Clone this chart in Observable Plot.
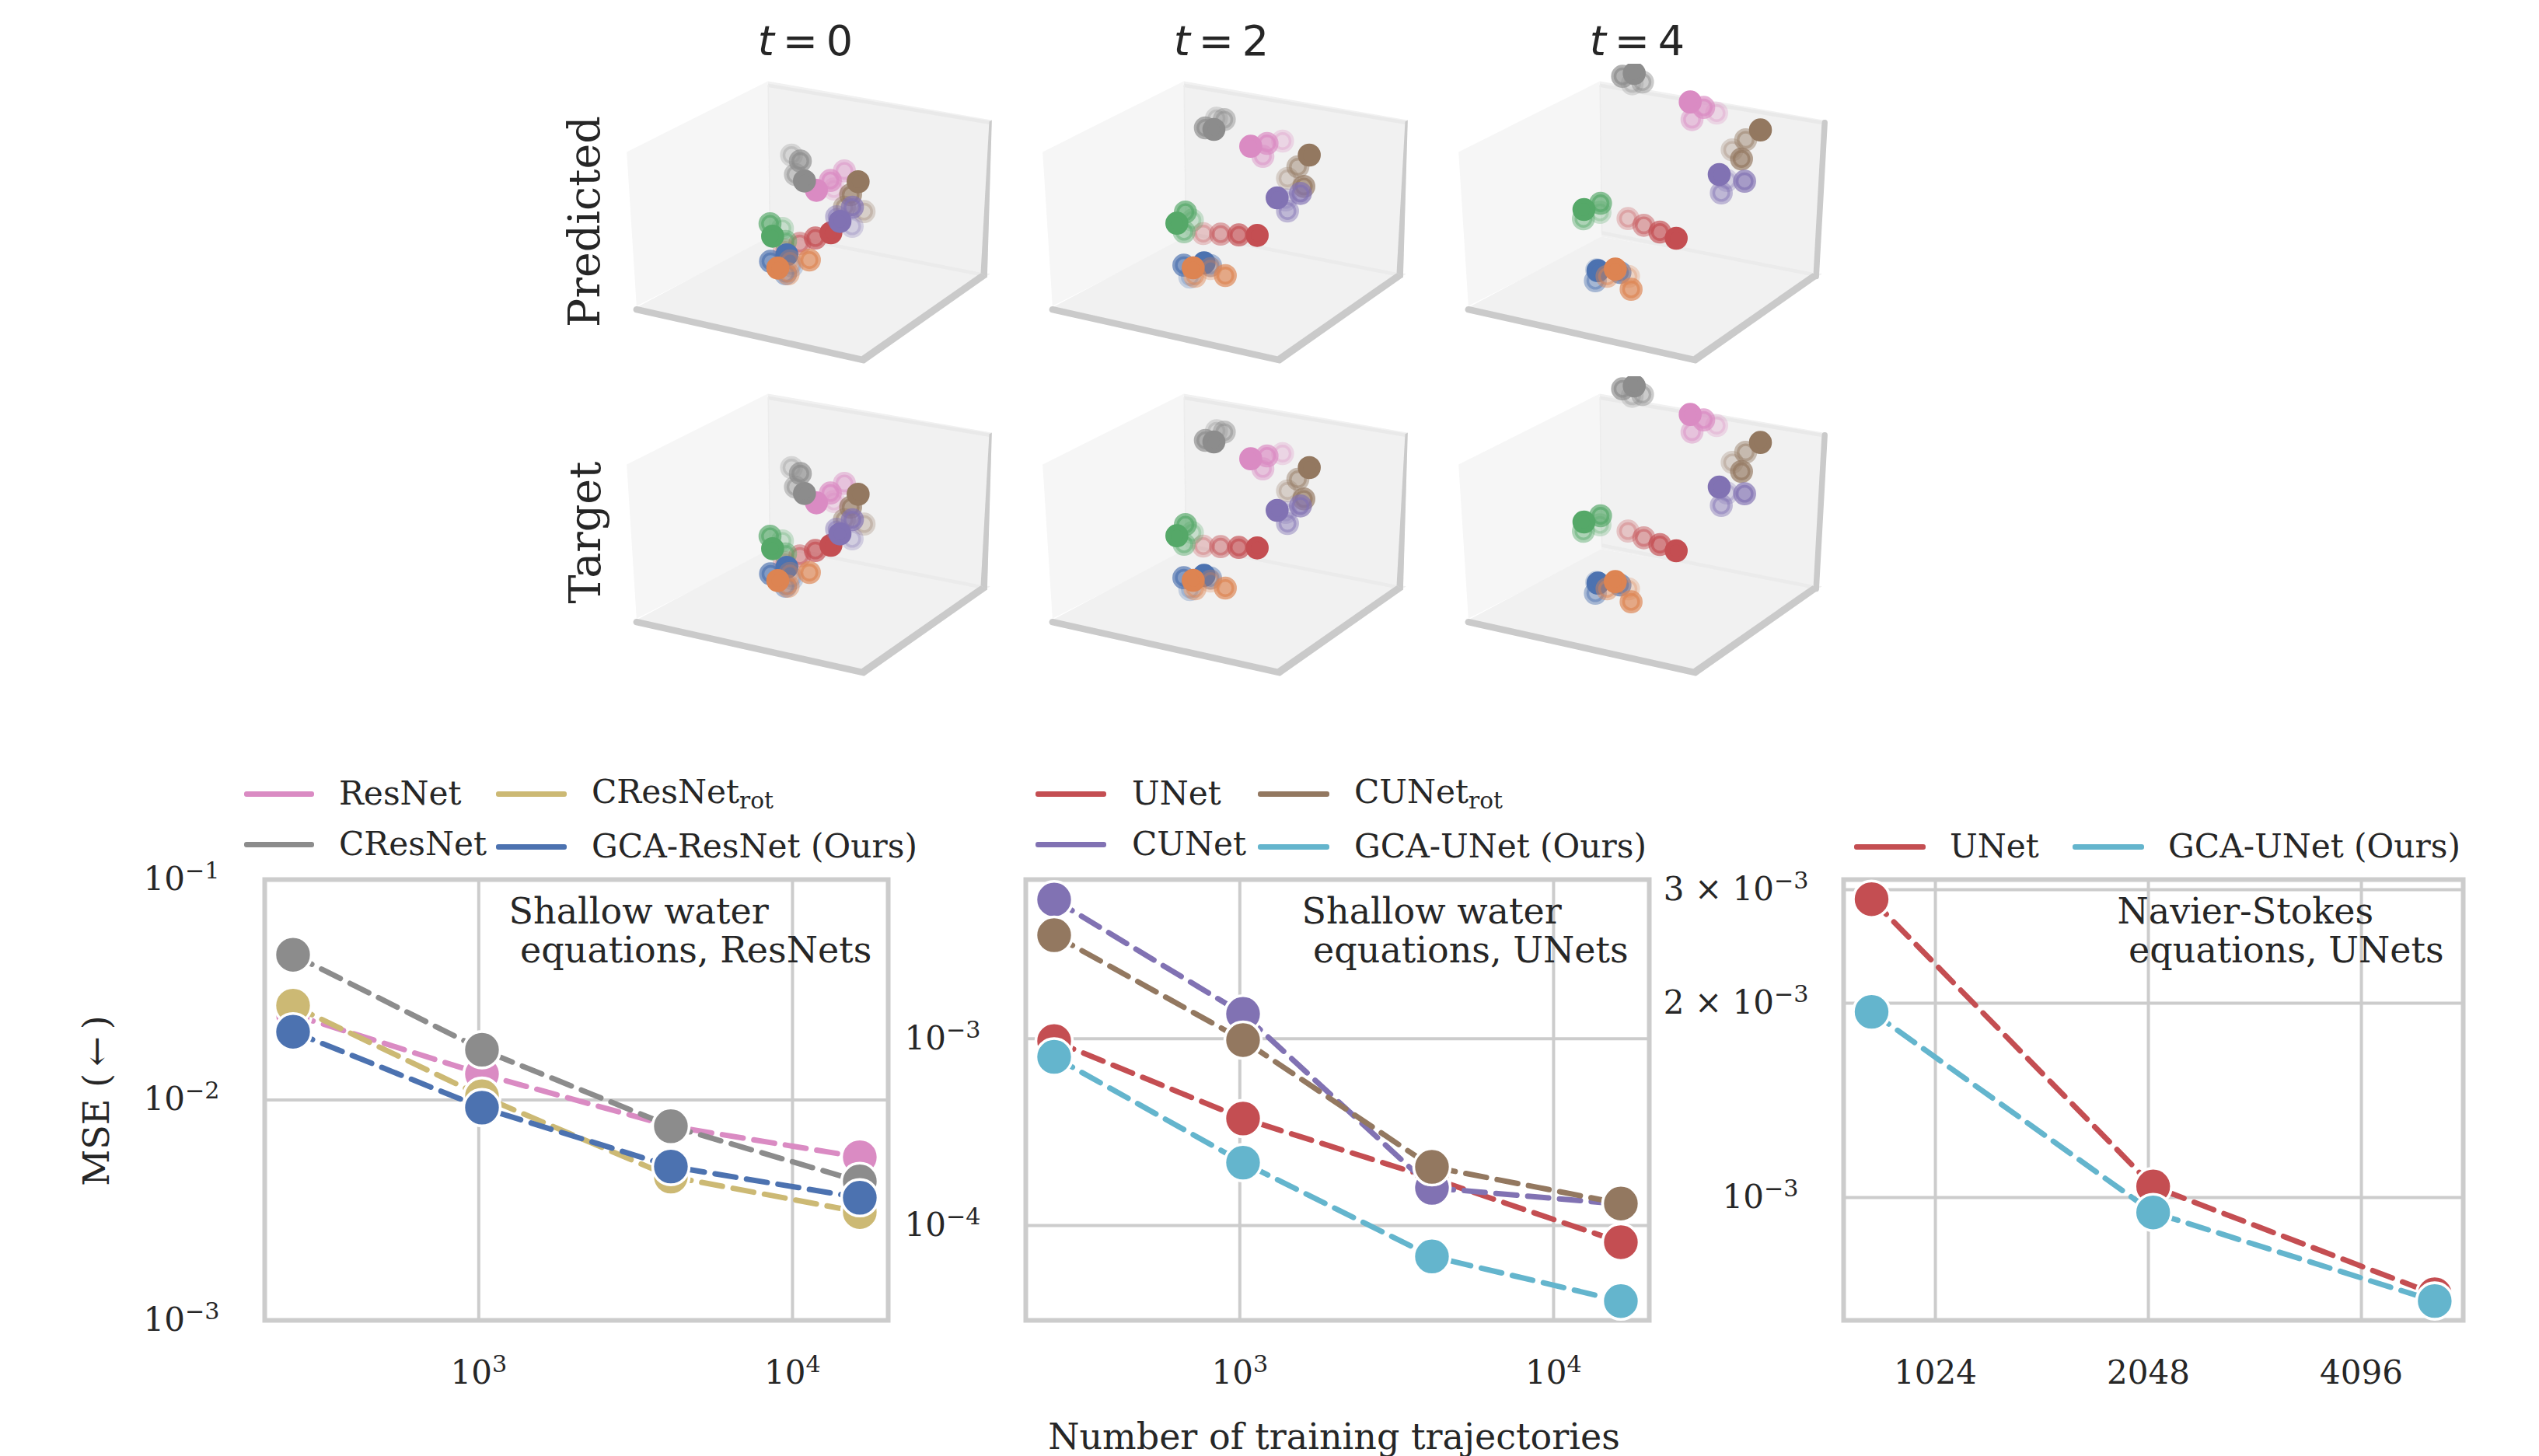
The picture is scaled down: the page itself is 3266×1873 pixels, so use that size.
<!DOCTYPE html>
<html>
<head>
<meta charset="utf-8">
<script src="https://cdn.jsdelivr.net/npm/d3@7"></script>
<script src="https://cdn.jsdelivr.net/npm/@observablehq/plot@0.6"></script>
<style>
html,body{margin:0;padding:0;background:#fff;width:3266px;height:1873px;overflow:hidden}
#page{position:relative;width:3266px;height:1873px;font-family:"DejaVu Serif",serif;color:#262626}
#page>svg,#page>figure{position:absolute;margin:0}
.lbl{position:absolute;white-space:nowrap;line-height:1}
.sw{position:absolute;height:6.5px;border-radius:3px}
.soft{filter:blur(0.55px)}
</style>
</head>
<body>
<div id="page"></div>
<script>
// ---------- seaborn "deep" colours ----------
const cBlue="#4C72B0",cOrange="#DD8452",cGreen="#55A868",cRed="#C44E52",cPurple="#8172B3",
      cBrown="#937860",cPink="#DA8BC3",cGray="#8C8C8C",cKhaki="#CCB974",cTeal="#64B5CD";

// ---------- line charts: MSE vs number of training trajectories ----------
const swTrajectories=[256,1024,4096,16384];
const swResNet=[0.0244,0.0131,0.0076,0.0055];
const swCResNet=[0.0456,0.0169,0.0076,0.00427];
const swCResNetRot=[0.0268,0.0104,0.00449,0.0031];
const swGcaResNet=[0.0204,0.00923,0.00499,0.0036];
const swUNet=[0.000973,0.000374,0.000179,0.0000813];
const swCUNet=[0.00557,0.00136,0.000159,0.00013];
const swCUNetRot=[0.00359,0.000984,0.000206,0.000131];
const swGcaUNet=[0.0008,0.000217,0.0000682,0.0000393];
const nsTrajectories=[832,2080,5200];
const nsUNet=[0.0029,0.00104,0.000708];
const nsGcaUNet=[0.00194,0.000948,0.000691];

// ---------- 3D scatter: particle positions,
// oldest to newest within each particle ----------
const t0Pink=[[832,488],[872,418],[818,455],[764,493]];
const t0Gray=[[668,357],[683,432],[702,380],[718,457]];
const t0Red=[[640,722],[700,698],[760,677],[820,657]];
const t0Green=[[633,640],[645,690],[585,622],[595,670]];
const t0BlueP=[[670,785],[645,815],[587,767],[650,742]];
const t0OrangeP=[[662,765],[655,815],[737,762],[615,793]];
const t0Brown=[[948,575],[872,558],[896,510],[925,460]];
const t0PurpleP=[[902,632],[842,595],[903,558],[855,613]];

const t2Pink=[[958,303],[882,362],[898,312],[835,323]];
const t2Gray=[[703,215],[733,220],[660,252],[693,258]];
const t2Red=[[652,660],[719,662],[789,665],[860,667]];
const t2Green=[[610,608],[578,653],[583,577],[550,620]];
const t2BlueP=[[600,828],[680,783],[577,782],[655,773]];
const t2OrangeP=[[680,795],[620,825],[737,822],[613,792]];
const t2Brown=[[977,447],[1017,402],[1040,478],[1061,357]];
const t2PurpleP=[[970,530],[977,573],[1027,505],[937,522]];

const t4Pink=[[1028,195],[933,220],[978,173],[926,152]];
const t4Gray=[[702,82],[742,75],[665,53],[710,42]];
const t4Red=[[686,602],[747,628],[809,654],[872,678]];
const t4Green=[[578,578],[514,603],[580,543],[516,567]];
const t4BlueP=[[565,800],[560,842],[655,810],[570,803]];
const t4OrangeP=[[688,825],[605,825],[698,875],[637,797]];
const t4Brown=[[1088,337],[1140,298],[1124,372],[1197,260]];
const t4PurpleP=[[1068,455],[1046,503],[1136,458],[1038,432]];

const ageOpacity=[0.28,0.45,0.68,1];

// 3D box outline, in the same picture units as the particles
const leftWall=[[32,345],[577,72],[582,680],[70,940]];
const backWall=[[577,72],[1440,222],[1423,815],[582,672]];
const floorPane=[[70,945],[582,672],[1435,815],[940,1135]];
const topBand=[[577,88],[1432,232]];
const bottomBand=[[585,657],[1395,817]];
const innerEdge=[[578,85],[585,660]];
const frontEdge=[[70,953],[945,1148]];
const rightEdge=[[1398,812],[1423,828],[948,1162],[938,1133]];
const uprightWedge=[[1431,228],[1441,222],[1423,830],[1398,812]];
const uprightBar=[[1445,232],[1412,825]];

const page=document.getElementById("page");
function label(html,x,y,size,o={}){
  const d=document.createElement("div");
  d.className="lbl";
  d.innerHTML=html;
  d.style.left=x+"px";d.style.top=y+"px";d.style.fontSize=size+"px";
  d.style.transform=o.transform||"translate(-50%,-50%)";
  if(o.font)d.style.fontFamily=o.font;
  page.appendChild(d);
}
function place(svg,left,top,cls){
  svg.style.position="absolute";svg.style.left=left+"px";svg.style.top=top+"px";
  svg.style.background="transparent";svg.style.maxWidth="none";
  if(cls)svg.classList.add(cls);
  page.appendChild(svg);
}

// ---------- 3D panels ----------
function scatterPanel(particles,thickUpright){
  const X=d=>d[0],Y=d=>d[1];
  const pane=(pts,fill)=>Plot.line(pts,{x:X,y:Y,fill,stroke:null,clip:true});
  const edge=(pts,stroke,w,cap="butt")=>Plot.line(pts,{x:X,y:Y,stroke,strokeWidth:w,strokeLinecap:cap,clip:true});
  const marks=[
    pane(leftWall,"#f6f6f6"),pane(backWall,"#f1f1f1"),pane(floorPane,"#f1f1f1"),
    edge(topBand,"#e9e9e9",4.6),edge(bottomBand,"#ebebeb",4.6),edge(innerEdge,"#ececec",1.5),
    pane(rightEdge,"#cacaca"),edge(frontEdge,"#cacaca",8.5,"round"),
    thickUpright?edge(uprightBar,"#cacaca",7.5,"round"):pane(uprightWedge,"#cacaca")
  ];
  for(const [pts,color] of particles){
    pts.forEach((pt,i)=>{
      marks.push(Plot.dot([pt],{x:X,y:Y,r:11.4,fill:color,fillOpacity:ageOpacity[i],
        stroke:color,strokeOpacity:ageOpacity[i],strokeWidth:6.8,clip:true}));
    });
  }
  return Plot.plot({width:520,height:398,margin:0,
    x:{domain:[0,1560],axis:null},y:{domain:[1200,6],axis:null},marks});
}
const columns=[
  {left:795,tex:"0",thick:false,p:[[t0Pink,cPink],[t0Gray,cGray],[t0Red,cRed],[t0Green,cGreen],[t0BlueP,cBlue],[t0OrangeP,cOrange],[t0Brown,cBrown],[t0PurpleP,cPurple]]},
  {left:1330,tex:"2",thick:false,p:[[t2Pink,cPink],[t2Gray,cGray],[t2Red,cRed],[t2Green,cGreen],[t2BlueP,cBlue],[t2OrangeP,cOrange],[t2Brown,cBrown],[t2PurpleP,cPurple]]},
  {left:1865,tex:"4",thick:true,p:[[t4Pink,cPink],[t4Gray,cGray],[t4Red,cRed],[t4Green,cGreen],[t4BlueP,cBlue],[t4OrangeP,cOrange],[t4Brown,cBrown],[t4PurpleP,cPurple]]}
];
for(const c of columns){
  place(scatterPanel(c.p,c.thick),c.left,82,"soft");
  place(scatterPanel(c.p,c.thick),c.left,483.67,"soft");
  label(`<i>t</i>\u2009=\u2009${c.tex}`,c.left+241,53,54,{font:'"DejaVu Sans",sans-serif'});
}
label("Predicted",752,285,55.5,{transform:"translate(-50%,-50%) rotate(-90deg)"});
label("Target",753,685,55.5,{transform:"translate(-50%,-50%) rotate(-90deg)"});

// ---------- line panels ----------
const TICK=42,FRAME_TOP=1130.5,FRAME_BOTTOM=1697.5;
const tenPow=v=>`10^${String(Math.round(Math.log10(v))).replace("-","\u2212")}`;
function linePanel({frameL,frameR,xDomain,yDomain,xTicks,xFormat,yTicks,yFormat,xs,series,note,noteDx}){
  const mL=240,mR=30,mT=30,mB=130;
  const marks=[
    Plot.gridX(xTicks,{stroke:"#cccccc",strokeWidth:4,strokeOpacity:1}),
    Plot.gridY(yTicks.filter(v=>v>yDomain[0]&&v<yDomain[1]),{stroke:"#cccccc",strokeWidth:4,strokeOpacity:1}),
    Plot.frame({stroke:"#cccccc",strokeWidth:6}),
    Plot.axisX({ticks:xTicks,tickFormat:xFormat,tickSize:0,tickPadding:52,fontSize:TICK,label:null,fill:"#262626",anchor:"bottom"}),
    Plot.axisY({ticks:yTicks,tickFormat:yFormat,tickSize:0,tickPadding:58,fontSize:TICK,label:null,fill:"#262626",anchor:"left"})
  ];
  for(const [vals,color] of series){
    const rows=vals.map((v,i)=>({x:xs[i],y:v}));
    marks.push(Plot.line(rows,{x:"x",y:"y",stroke:color,strokeWidth:7,strokeDasharray:"27,14"}));
    marks.push(Plot.dot(rows,{x:"x",y:"y",r:23.5,fill:color,stroke:"#fff",strokeWidth:3.6}));
  }
  marks.push(Plot.text([note],{text:d=>d,frameAnchor:"top-left",textAnchor:"start",dx:noteDx,dy:21,fontSize:46,lineHeight:1.09,fill:"#262626"}));
  const svg=Plot.plot({
    width:frameR-frameL+mL+mR,height:FRAME_BOTTOM-FRAME_TOP+mT+mB,
    marginLeft:mL,marginRight:mR,marginTop:mT,marginBottom:mB,
    style:{fontFamily:'"DejaVu Serif",serif',background:"transparent",overflow:"visible"},
    x:{type:"log",domain:xDomain,axis:null},y:{type:"log",domain:yDomain,axis:null},marks});
  // raise the exponents of the tick labels
  svg.querySelectorAll("text").forEach(t=>{
    const m=/^(.*10)\^(.+)$/.exec(t.textContent);
    if(!m)return;
    t.textContent=m[1];
    const e=document.createElementNS("http://www.w3.org/2000/svg","tspan");
    e.setAttribute("font-size","0.72em");e.setAttribute("dy","-0.5em");e.textContent=m[2];
    t.appendChild(e);
    if(m[1].includes("\u00D7"))t.setAttribute("dx","13");
  });
  place(svg,frameL-mL,FRAME_TOP-mT);
}
linePanel({frameL:340,frameR:1142,xDomain:[207.9,20180],yDomain:[1e-3,1e-1],
  xTicks:[1e3,1e4],xFormat:tenPow,yTicks:[1e-3,1e-2,1e-1],yFormat:tenPow,xs:swTrajectories,
  series:[[swResNet,cPink],[swCResNet,cGray],[swCResNetRot,cKhaki],[swGcaResNet,cBlue]],
  note:"Shallow water\n\u00A0equations, ResNets",noteDx:314});
linePanel({frameL:1319,frameR:2121,xDomain:[207.9,20180],yDomain:[3.1e-5,0.00713],
  xTicks:[1e3,1e4],xFormat:tenPow,yTicks:[1e-4,1e-3],yFormat:tenPow,xs:swTrajectories,
  series:[[swUNet,cRed],[swCUNet,cPurple],[swCUNetRot,cBrown],[swGcaUNet,cTeal]],
  note:"Shallow water\n\u00A0equations, UNets",noteDx:355});
linePanel({frameL:2371,frameR:3168,xDomain:[759.6,5705],yDomain:[0.000645,0.00311],
  xTicks:[1024,2048,4096],xFormat:d=>String(d),yTicks:[1e-3,2e-3,3e-3],
  yFormat:v=>v<0.0015?"10^\u22123":`${Math.round(v*1000)} \u00D7 10^\u22123`,xs:nsTrajectories,
  series:[[nsUNet,cRed],[nsGcaUNet,cTeal]],
  note:"Navier-Stokes\n\u00A0equations, UNets",noteDx:352});

label("MSE (\u2009\u2190\u2009)",123.5,1416,46,{transform:"translate(-50%,-50%) rotate(-90deg)"});
label("Number of training trajectories",1716,1848,46);

// ---------- legends ----------
const rot=n=>`${n}<span style="font-size:.7em;position:relative;top:.22em">rot</span>`;
const legendEntries=[
  ["ResNet",cPink,314,90,436,1021],["CResNet",cGray,314,90,436,1086],
  [rot("CResNet"),cKhaki,638,91,761,1019],["GCA-ResNet (Ours)",cBlue,638,91,761,1089],
  ["UNet",cRed,1332,91,1456,1021],["CUNet",cPurple,1332,91,1456,1086],
  [rot("CUNet"),cBrown,1618,92,1742,1019],["GCA-UNet (Ours)",cTeal,1618,92,1742,1089],
  ["UNet",cRed,2385,92,2508,1089],["GCA-UNet (Ours)",cTeal,2666,92,2789,1089]
];
for(const [name,color,swx,sww,tx,y] of legendEntries){
  const s=document.createElement("div");
  s.className="sw";s.style.left=swx+"px";s.style.width=sww+"px";
  s.style.top=(y-3+(name.includes("rot")?2:0))+"px";s.style.background=color;
  page.appendChild(s);
  label(name,tx,y,42.3,{transform:"translate(0,-50%)"});
}
</script>
</body>
</html>
